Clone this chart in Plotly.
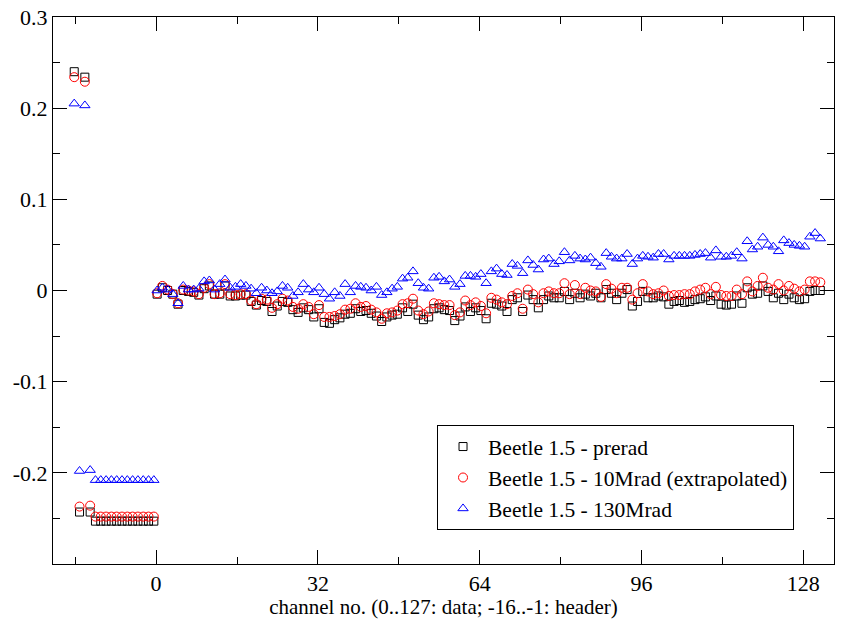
import numpy as np
import plotly.graph_objects as go

# ---- header channels (-16..-1) ----
header_prerad = [0.240, -0.243, 0.234, -0.243,
                 -0.253, -0.253, -0.253, -0.253, -0.253, -0.253,
                 -0.253, -0.253, -0.253, -0.253, -0.253, -0.253]
header_10mrad = [0.234, -0.237, 0.229, -0.236,
                 -0.248, -0.248, -0.248, -0.248, -0.248, -0.248,
                 -0.248, -0.248, -0.248, -0.248, -0.248, -0.248]
header_130mrad = [0.205, -0.198, 0.203, -0.197,
                  -0.208, -0.208, -0.208, -0.208, -0.208, -0.208,
                  -0.208, -0.208, -0.208, -0.208, -0.208, -0.208]

# ---- data channels (0..127) ----
data_prerad = [
    -0.004, 0.003, 0.000, -0.004, -0.015, 0.000, -0.001, -0.002, -0.005, 0.002,
    0.005, -0.004, -0.004, 0.005, -0.006, -0.006, -0.005, -0.005, -0.012, -0.016,
    -0.011, -0.012, -0.023, -0.017, -0.012, -0.013, -0.021, -0.024, -0.019, -0.021,
    -0.029, -0.020, -0.035, -0.036, -0.032, -0.030, -0.026, -0.025, -0.020, -0.023,
    -0.022, -0.025, -0.028, -0.034, -0.029, -0.027, -0.026, -0.019, -0.023, -0.015,
    -0.027, -0.032, -0.029, -0.020, -0.019, -0.021, -0.022, -0.033, -0.028, -0.018,
    -0.023, -0.019, -0.022, -0.031, -0.014, -0.015, -0.017, -0.023, -0.010, -0.008,
    -0.023, -0.005, -0.010, -0.019, -0.010, -0.006, -0.008, -0.008, -0.001, -0.010,
    -0.003, -0.008, -0.004, -0.006, -0.003, -0.008, 0.001, -0.003, -0.010, -0.003,
    0.001, -0.017, -0.012, -0.001, -0.008, -0.008, -0.006, -0.007, -0.015, -0.012,
    -0.011, -0.013, -0.012, -0.010, -0.009, -0.007, -0.011, -0.006, -0.015, -0.016,
    -0.015, -0.006, -0.014, 0.003, -0.004, -0.003, 0.005, -0.001, -0.008, -0.003,
    -0.010, -0.004, -0.008, -0.010, -0.009, -0.001, 0.000, 0.000,
]
data_10mrad = [
    -0.003, 0.005, 0.001, -0.004, -0.014, 0.001, 0.000, -0.001, -0.004, 0.003,
    0.007, -0.004, -0.003, 0.007, -0.004, -0.005, -0.004, -0.004, -0.011, -0.015,
    -0.009, -0.010, -0.019, -0.015, -0.009, -0.011, -0.018, -0.020, -0.015, -0.018,
    -0.026, -0.016, -0.029, -0.029, -0.028, -0.026, -0.021, -0.020, -0.014, -0.018,
    -0.017, -0.021, -0.024, -0.031, -0.025, -0.024, -0.022, -0.015, -0.014, -0.009,
    -0.022, -0.026, -0.023, -0.014, -0.015, -0.016, -0.016, -0.027, -0.024, -0.011,
    -0.016, -0.013, -0.017, -0.025, -0.008, -0.010, -0.013, -0.015, -0.006, -0.003,
    -0.020, 0.001, -0.004, -0.013, -0.003, -0.001, -0.003, -0.003, 0.008, -0.004,
    0.006, -0.004, 0.003, 0.000, -0.001, -0.007, 0.007, 0.002, -0.003, 0.003,
    0.003, -0.010, -0.003, 0.007, -0.001, -0.004, -0.003, 0.000, -0.006, -0.005,
    -0.005, -0.004, -0.004, -0.001, 0.001, 0.003, -0.004, 0.004, -0.005, -0.006,
    -0.006, 0.001, -0.004, 0.010, -0.001, 0.005, 0.014, 0.003, 0.001, 0.007,
    0.000, 0.005, 0.002, -0.001, 0.001, 0.010, 0.010, 0.009,
]
data_130mrad = [
    0.000, 0.003, 0.001, -0.004, -0.014, 0.005, 0.001, 0.001, 0.002, 0.010,
    0.011, 0.001, 0.007, 0.012, 0.003, 0.004, 0.007, 0.005, 0.002, -0.003,
    0.003, 0.000, -0.003, -0.001, 0.005, 0.003, -0.006, -0.002, 0.007, 0.001,
    -0.002, 0.003, -0.004, -0.009, -0.002, -0.006, 0.007, -0.002, 0.005, 0.004,
    0.003, 0.000, 0.004, -0.005, -0.002, 0.002, 0.004, 0.013, 0.014, 0.021,
    0.008, 0.003, 0.002, 0.014, 0.015, 0.010, 0.012, 0.004, 0.007, 0.016,
    0.016, 0.015, 0.018, 0.008, 0.021, 0.024, 0.018, 0.017, 0.029, 0.027,
    0.019, 0.033, 0.028, 0.023, 0.034, 0.035, 0.029, 0.032, 0.042, 0.033,
    0.038, 0.035, 0.034, 0.036, 0.030, 0.026, 0.041, 0.037, 0.035, 0.035,
    0.040, 0.029, 0.035, 0.038, 0.037, 0.036, 0.040, 0.040, 0.034, 0.038,
    0.038, 0.038, 0.038, 0.039, 0.040, 0.041, 0.036, 0.044, 0.037, 0.037,
    0.038, 0.042, 0.035, 0.054, 0.045, 0.048, 0.058, 0.050, 0.048, 0.043,
    0.055, 0.052, 0.050, 0.049, 0.048, 0.059, 0.063, 0.057,
]

y_tickvals = [-0.2, -0.1, 0.0, 0.1, 0.2, 0.3]
y_ticktext = ["-0.2", "-0.1", "0", "0.1", "0.2", "0.3"]
x_tickvals = [0, 32, 64, 96, 128]

# sample positions on the channel axis
header_ch = np.arange(-16, 0)
data_ch = np.arange(128)
header_x = -16.2 + (header_ch + 16) * 1.05
data_x = 0.2 + data_ch * 1.033

series = [
    ("Beetle 1.5 - prerad", header_prerad, data_prerad, "square-open", "black", 8),
    ("Beetle 1.5 - 10Mrad (extrapolated)", header_10mrad, data_10mrad, "circle-open", "red", 9),
    ("Beetle 1.5 - 130Mrad", header_130mrad, data_130mrad, "triangle-up-open", "blue", 9),
]

fig = go.Figure()
for name, hdr, dat, sym, col, sz in series:
    fig.add_trace(go.Scatter(
        x=np.concatenate([header_x, data_x]),
        y=np.array(hdr + dat),
        mode="markers",
        name=name,
        marker=dict(symbol=sym, color=col, size=sz, line=dict(color=col, width=1)),
    ))

serif = "Liberation Serif"
axis_common = dict(
    showline=True, linecolor="black", linewidth=1, mirror="allticks",
    ticks="inside", ticklen=14, tickwidth=1, tickcolor="black",
    showgrid=False, zeroline=False, automargin=False,
    tickfont=dict(family=serif, size=22, color="black"),
)

fig.update_layout(
    width=843, height=619,
    margin=dict(l=53, r=9, t=17, b=55),
    paper_bgcolor="white", plot_bgcolor="white",
    font=dict(family=serif, size=21, color="black"),
    xaxis=dict(
        range=[-20.4, 134.1],
        tickvals=x_tickvals,
        minor=dict(dtick=16, tick0=0, ticklen=7, ticks="inside", tickcolor="black", showgrid=False),
        title=dict(text="channel no. (0..127: data; -16..-1: header)",
                   font=dict(family=serif, size=21)),
        **axis_common,
    ),
    yaxis=dict(
        range=[-0.3, 0.3],
        tickvals=y_tickvals,
        ticktext=y_ticktext,
        minor=dict(dtick=0.05, tick0=0, ticklen=7, ticks="inside", tickcolor="black", showgrid=False),
        **axis_common,
    ),
    legend=dict(
        x=0.4917, y=0.254, xanchor="left", yanchor="top",
        bgcolor="white", bordercolor="black", borderwidth=1,
        font=dict(family=serif, size=21.5, color="black"),
        itemsizing="trace", itemwidth=40,
    ),
    showlegend=True,
)

fig.write_html("out.html")
